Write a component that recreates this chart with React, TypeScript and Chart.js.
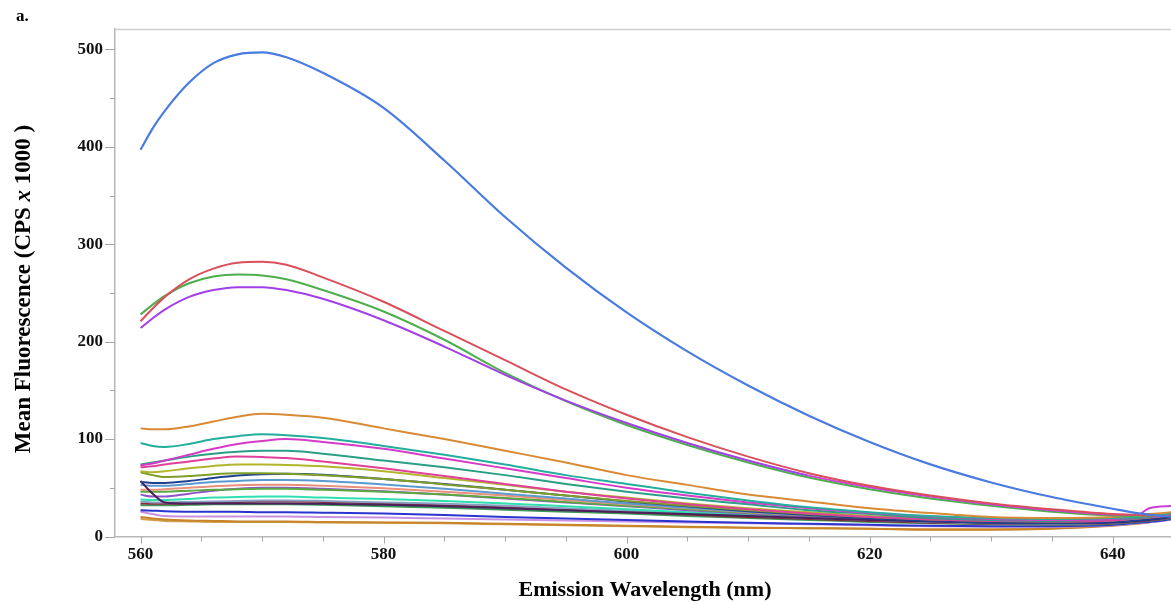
import React, { useEffect, useRef } from "react";
import { Chart, registerables } from "chart.js";

Chart.register(...registerables);

// Emission wavelengths (nm) at which the curves are sampled
const wavelengths = [560, 561, 562, 564, 566, 568, 570, 572, 575, 580, 585, 590, 595, 600, 605, 610, 615, 620, 625, 630, 635, 640, 642, 643, 645];

// Mean fluorescence (CPS x 1000) for each sample
const sampleBlue = [397, 419, 437, 466, 486, 495, 497, 492, 476, 440, 386, 328, 276, 230, 190, 155, 124, 97, 74, 55.5, 40.5, 28.5, 24, 22.5, 20];
const sampleRed = [221, 234, 246, 264, 275, 281, 282, 279, 266, 241, 211, 181, 151, 125, 102, 82, 65, 52, 42, 34, 28, 23, 22, 21.5, 21];
const sampleGreen = [228, 238, 247, 260, 267, 269, 268, 264, 253, 231, 202, 168, 139, 114.5, 94, 76, 60.5, 48.5, 39, 31.5, 25.5, 21.5, 21, 21, 21];
const samplePurple = [214, 224, 233, 246, 253, 256, 256, 253, 244, 222, 195, 166, 139.5, 116.5, 96, 78, 62.5, 50.5, 41, 33, 27, 22.5, 22, 29, 31.5];
const sampleOrange = [111, 110, 110, 113, 118, 123, 126, 125, 122, 111, 100, 88, 76, 63, 53, 43, 36, 29, 24, 20, 19, 20, 22, 23, 25];
const sampleTeal = [96, 93, 92, 95, 100, 103, 105, 104, 101, 93, 84, 74, 63, 54, 45, 37, 30, 25, 21, 19, 18, 19, 20, 21, 24];
const sampleMagenta = [73, 75, 78, 84, 90, 95, 98, 100, 97, 90, 80, 70, 60, 50, 42, 35, 29, 24, 20.5, 18, 17, 18, 20, 21, 23.5];
const sampleTeal2 = [74, 76, 78, 82, 85, 87, 88, 88, 85, 78, 71, 63, 54, 46, 39, 33, 27, 23, 19, 17, 16, 18, 19, 20, 23];
const samplePink = [71, 72, 74, 77, 80, 82, 81.5, 80.5, 77, 70, 62, 54, 46, 39, 33, 28, 23.5, 20, 17.5, 16, 15.5, 16.5, 18.5, 19.5, 22];
const sampleOlive = [67, 66, 67, 70, 72.5, 74, 74, 73.5, 72, 67, 60, 53, 46, 40, 34, 29, 25, 21, 18.5, 16.5, 16, 17, 19, 20, 23];
const sampleOlive2 = [66, 63, 61, 62, 64, 65, 65, 64.5, 63, 59, 53.5, 48, 42, 36.5, 31.5, 27, 23, 20, 17.5, 16, 15.5, 16.5, 18.5, 19.5, 22.5];
const sampleNavy = [56, 55, 55, 57, 60, 62.5, 64, 64.5, 63.5, 59, 54, 48, 42, 36, 31, 26, 22, 18.5, 16, 14, 13.5, 14.5, 16.5, 17.5, 20.5];
const samplePlum = [57, 44, 35, 34, 34, 34, 34, 34, 33.5, 32.5, 31, 29, 27, 25, 23, 21, 19, 17, 15.5, 14.5, 14, 14.5, 16, 17, 20];
const sampleSteel = [53, 52, 52, 54, 56, 57, 58, 58, 57, 53.5, 49, 44, 39, 34, 29.5, 25.5, 22, 19, 16.5, 15, 14.5, 15.5, 17.5, 18.5, 21.5];
const sampleSalmon = [48, 48, 48.5, 50, 51.5, 52.5, 53, 53, 52, 49.5, 46, 42, 37.5, 33, 29, 25, 22, 19, 16.5, 15, 14.5, 15.5, 17.5, 18.5, 21.5];
const sampleLeaf = [46, 46, 46, 47, 48, 48.5, 49, 49, 48, 46, 43, 39.5, 35.5, 31.5, 28, 24.5, 21.5, 18.5, 16, 14.5, 14, 15, 17, 18, 21];
const sampleViolet = [43, 41, 41, 44, 47, 49, 50, 50, 49, 46.5, 43, 39, 35, 31, 27, 23.5, 20.5, 18, 15.5, 14, 13.5, 14.5, 16.5, 17.5, 20.5];
const sampleAqua = [38, 37.5, 37.5, 38.5, 40, 40.5, 41, 41, 40, 38.5, 36.5, 34, 31, 28, 25, 22.5, 20, 17.5, 15.5, 14, 13.5, 14.5, 16.5, 17.5, 20.5];
const sampleGreyBlue = [36, 35, 35, 35.5, 36, 36.5, 37, 37, 36.5, 35, 33.5, 31.5, 29, 26.5, 24, 21.5, 19, 17, 15, 13.5, 13, 14, 16, 17, 20];
const sampleMaroon = [34, 33.5, 33.5, 34, 35, 35.5, 36, 36, 35.5, 34, 32, 30, 27.5, 25, 22.5, 20, 18, 16, 14, 13, 12.5, 13.5, 15.5, 16.5, 19.5];
const sampleForest = [32, 32, 32, 32.5, 33, 33, 33, 33, 32.5, 31, 29.5, 27.5, 25.5, 23.5, 21, 19, 17, 15, 13.5, 12.5, 12, 13, 15, 16, 19];
const sampleRoyal = [27, 26.5, 26, 25.5, 25.5, 25.5, 25, 25, 24.5, 23.5, 22, 20, 18.5, 17, 15.5, 14, 13, 12, 11, 10.5, 10.5, 12, 14, 15, 18];
const sampleLavender = [25.5, 23, 21, 20.5, 20.5, 20.5, 20.5, 20.5, 20, 19.5, 18.5, 17.5, 16.5, 15.5, 14.5, 13.5, 12.5, 11.5, 10.5, 10, 10, 11.5, 13.5, 14.5, 17.5];
const sampleBrown = [20, 18.5, 17.5, 16.5, 16, 15.5, 15.5, 15.5, 15, 14.5, 14, 13, 12, 11, 10, 9, 8.5, 8, 7, 7, 8, 11, 13, 14.5, 18];
const sampleTan = [18, 17, 16, 15.5, 15, 15, 15, 15, 14.5, 14, 13.5, 12.5, 11.5, 10.5, 9.5, 9, 8.5, 8, 7.5, 7.5, 8.5, 11.5, 13.5, 15, 18.5];

const yTickLabels = [0, 100, 200, 300, 400, 500];
const xTickLabels = [560, 580, 600, 620, 640];

const seriesList = [
  { name: "Sample 1", values: sampleBlue, color: "#4a7be0" },
  { name: "Sample 2", values: sampleRed, color: "#d9505a" },
  { name: "Sample 3", values: samplePurple, color: "#a23fe6", tail: "#cc3fd6" },
  { name: "Sample 4", values: sampleGreen, color: "#4caf4c" },
  { name: "Sample 5", values: sampleOrange, color: "#d98a35" },
  { name: "Sample 6", values: sampleTeal, color: "#22ad9c" },
  { name: "Sample 7", values: sampleMagenta, color: "#d63bc8" },
  { name: "Sample 8", values: sampleTeal2, color: "#2a9f86" },
  { name: "Sample 9", values: samplePink, color: "#e0409a" },
  { name: "Sample 10", values: sampleOlive, color: "#b2b42c" },
  { name: "Sample 11", values: sampleOlive2, color: "#7f9e2a" },
  { name: "Sample 12", values: sampleNavy, color: "#1f3f8f" },
  { name: "Sample 13", values: samplePlum, color: "#4a1f5a" },
  { name: "Sample 14", values: sampleSteel, color: "#5a9ad0" },
  { name: "Sample 15", values: sampleSalmon, color: "#e8907a" },
  { name: "Sample 16", values: sampleLeaf, color: "#5aa840" },
  { name: "Sample 17", values: sampleViolet, color: "#9055c8" },
  { name: "Sample 18", values: sampleAqua, color: "#2ee0b0" },
  { name: "Sample 19", values: sampleGreyBlue, color: "#8aa0c0" },
  { name: "Sample 20", values: sampleMaroon, color: "#8a2a3a" },
  { name: "Sample 21", values: sampleForest, color: "#3a9a5a" },
  { name: "Sample 22", values: sampleRoyal, color: "#2a35d0" },
  { name: "Sample 23", values: sampleLavender, color: "#c890e0" },
  { name: "Sample 24", values: sampleBrown, color: "#c8842a" },
  { name: "Sample 25", values: sampleTan, color: "#d4a050" },
];

const SERIF = "'Liberation Serif', 'Times New Roman', serif";

const decorPlugin = {
  id: "decor",
  afterDraw(chart: any) {
    const { ctx, chartArea: a, scales } = chart;
    const xs = scales.x;
    const ys = scales.y;
    ctx.save();
    // top frame line
    ctx.strokeStyle = "#cfcfcf";
    ctx.lineWidth = 1.5;
    ctx.beginPath();
    ctx.moveTo(a.left, a.top + 0.5);
    ctx.lineTo(a.right, a.top + 0.5);
    ctx.stroke();
    // tick marks
    ctx.strokeStyle = "#a8a8a8";
    ctx.lineWidth = 1;
    for (let v = 0; v <= 500; v += 50) {
      const y = Math.round(ys.getPixelForValue(v)) + 0.5;
      const len = v % 100 === 0 ? 10 : 5;
      ctx.beginPath();
      ctx.moveTo(a.left - len, y);
      ctx.lineTo(a.left, y);
      ctx.stroke();
    }
    for (let v = 560; v <= 640; v += 5) {
      const x = Math.round(xs.getPixelForValue(v)) + 0.5;
      const len = v % 20 === 0 ? 7 : 5;
      ctx.beginPath();
      ctx.moveTo(x, a.bottom);
      ctx.lineTo(x, a.bottom + len);
      ctx.stroke();
    }
    // panel label
    ctx.fillStyle = "#000";
    ctx.textBaseline = "alphabetic";
    ctx.textAlign = "left";
    ctx.font = `bold 17px ${SERIF}`;
    ctx.fillText("a.", 16, 21);
    // x title
    ctx.font = `bold 22px ${SERIF}`;
    ctx.textAlign = "center";
    ctx.fillText("Emission Wavelength (nm)", 645, 596);
    // y title with italic x
    const parts = [
      { t: "Mean Fluorescence (CPS ", f: `bold 23px ${SERIF}` },
      { t: "x", f: `italic bold 23px ${SERIF}` },
      { t: " 1000 )", f: `bold 23px ${SERIF}` },
    ];
    let total = 0;
    const widths = parts.map((p) => {
      ctx.font = p.f;
      const w = ctx.measureText(p.t).width;
      total += w;
      return w;
    });
    ctx.translate(30, 289);
    ctx.rotate(-Math.PI / 2);
    ctx.textAlign = "left";
    let pos = -total / 2;
    parts.forEach((p, i) => {
      ctx.font = p.f;
      ctx.fillText(p.t, pos, 0);
      pos += widths[i];
    });
    ctx.restore();
  },
};

export default function App() {
  const canvasRef = useRef<HTMLCanvasElement | null>(null);

  useEffect(() => {
    if (!canvasRef.current) return;
    const datasets = seriesList.map((s: any) => ({
      label: s.name,
      data: wavelengths.map((w, i) => ({ x: w, y: s.values[i] })),
      borderColor: s.color,
      backgroundColor: s.color,
      borderWidth: s.values === sampleBlue ? 2.2 : 2,
      pointRadius: 0,
      fill: false,
      cubicInterpolationMode: "monotone" as const,
      segment: s.tail
        ? { borderColor: (c: any) => (c.p0.parsed.x >= 612 ? s.tail : undefined) }
        : undefined,
    }));
    const chart = new Chart(canvasRef.current, {
      type: "line",
      data: { datasets },
      options: {
        animation: false,
        responsive: true,
        maintainAspectRatio: false,
        layout: { padding: { top: 29, left: 0, right: 0, bottom: 0 } },
        plugins: { legend: { display: false }, tooltip: { enabled: false } },
        scales: {
          x: {
            type: "linear",
            min: 557.9,
            max: 644.8,
            grid: { display: false, drawTicks: false, tickLength: 0 },
            border: { display: true, color: "#b8b8b8", width: 1.5 },
            ticks: {
              stepSize: 20,
              includeBounds: false,
              padding: 8,
              color: "#111",
              font: { family: SERIF, size: 17, weight: "bold" },
              callback: (v: any) => (xTickLabels.includes(Number(v)) ? String(v) : ""),
              maxRotation: 0,
              autoSkip: false,
            },
            afterFit: (scale: any) => {
              scale.height = 65.5;
            },
          },
          y: {
            type: "linear",
            min: 0,
            max: 521,
            grid: { display: false, drawTicks: false, tickLength: 0 },
            border: { display: true, color: "#b8b8b8", width: 1.5 },
            ticks: {
              stepSize: 100,
              includeBounds: false,
              padding: 12,
              color: "#111",
              font: { family: SERIF, size: 17, weight: "bold" },
              callback: (v: any) => (yTickLabels.includes(Number(v)) ? String(v) : ""),
            },
            afterFit: (scale: any) => {
              scale.width = 115;
            },
          },
        },
      },
      plugins: [decorPlugin],
    });
    return () => chart.destroy();
  }, []);

  return (
    <div style={{ position: "absolute", left: 0, top: 0, width: 1171, height: 602, background: "#fff" }}>
      <canvas ref={canvasRef} />
    </div>
  );
}
